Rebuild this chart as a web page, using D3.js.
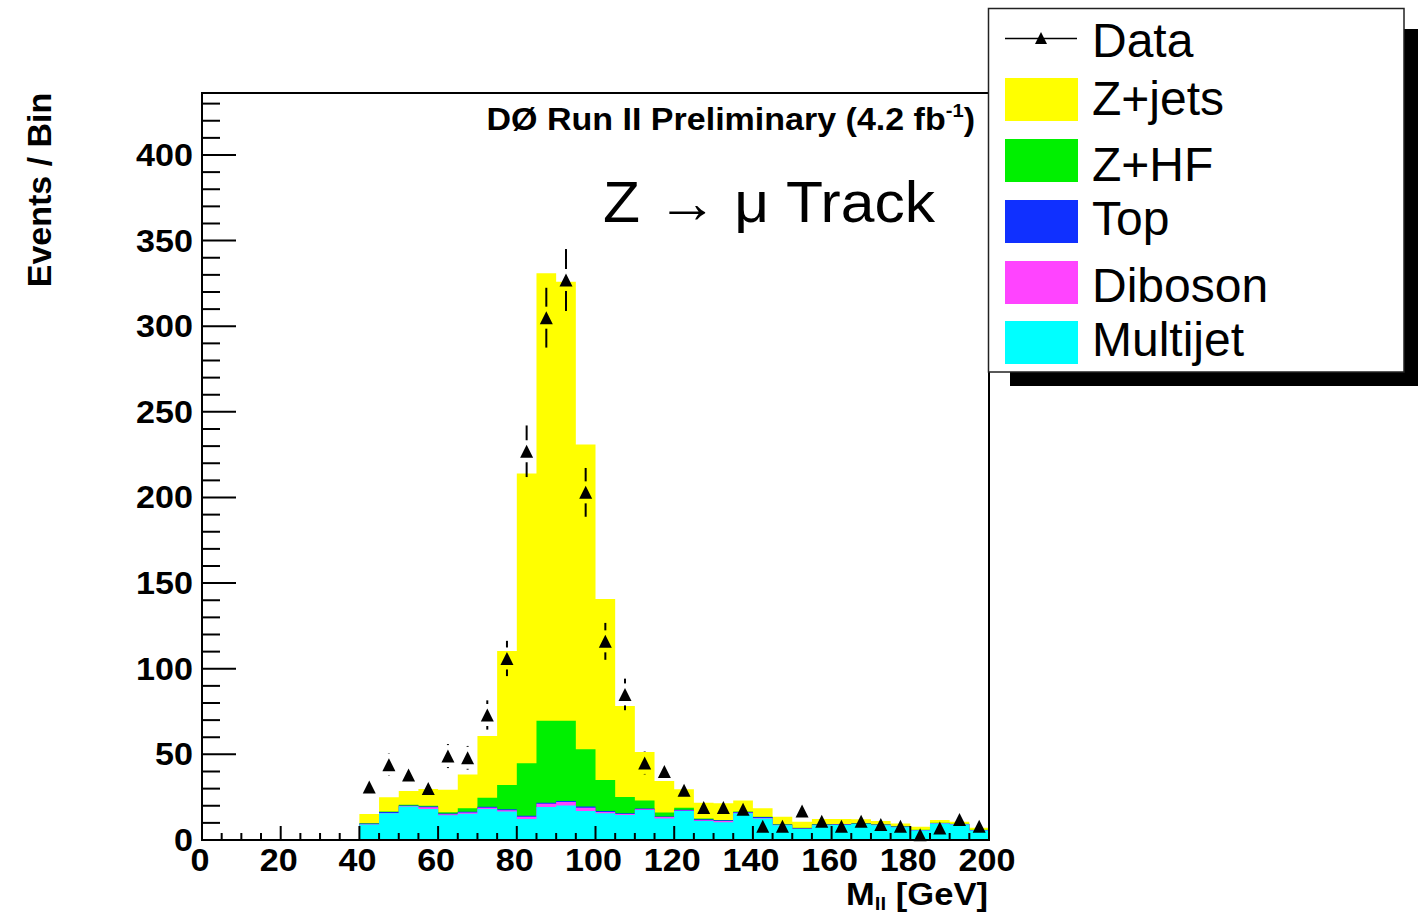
<!DOCTYPE html>
<html>
<head>
<meta charset="utf-8">
<script src="https://cdn.jsdelivr.net/npm/d3@7"></script>
<style>
  html, body { margin: 0; padding: 0; background: #fff; }
  svg { display: block; }
  text { font-family: "Liberation Sans", Arial, Helvetica, sans-serif; }
</style>
</head>
<body>
<svg id="chart" width="1421" height="916"></svg>
<script>
// Lower edges of the 5 GeV mass bins
const binLow = [40, 45, 50, 55, 60, 65, 70, 75, 80, 85, 90, 95, 100, 105, 110, 115,
                120, 125, 130, 135, 140, 145, 150, 155, 160, 165, 170, 175, 180, 185, 190, 195];
const binWidth = 5;

// Background components, events per bin (stacked bottom to top)
const multijet = [9.1, 15.6, 19.6, 18.1, 14.4, 15.4, 18.1, 16.6, 12.3, 19.3, 20.2, 16.9, 15.6, 14.6, 17.5, 12.6,
                  16.9, 11.1, 10.3, 15.6, 12.6, 8.6, 6.4, 8.6, 8.8, 9.3, 8.6, 7.4, 5.5, 9.7, 9.1, 5.5];
const diboson  = [0.1, 0.2, 0.2, 1.0, 0.6, 0.6, 0.8, 0.8, 1.3, 1.9, 2.0, 2.0, 0.8, 0.6, 0.5, 0.8,
                  0.3, 0.4, 0.8, 0.3, 0.2, 0.2, 0.2, 0.1, 0.1, 0.1, 0.1, 0.1, 0.1, 0.1, 0.1, 0.1];
const topq     = [0.4, 0.5, 0.4, 0.4, 0.5, 0.5, 0.5, 0.5, 0.5, 0.6, 0.6, 0.6, 0.5, 0.4, 0.4, 0.3,
                  0.4, 0.6, 0.4, 0.4, 0.6, 0.3, 0.3, 0.3, 0.3, 0.3, 0.3, 0.4, 0.2, 0.2, 0.2, 0.2];
const zhf      = [0.2, 0.3, 0.4, 0.5, 0.7, 2.0, 5.3, 14.2, 30.7, 47.9, 46.9, 33.5, 18.1, 9.5, 4.6, 2.3,
                  1.3, 0.4, 0.2, 0.3, 0.2, 0.1, 0.3, 0.2, 0.2, 0.1, 0.1, 0.1, 0.2, 0.1, 0.1, 0.2];
const zjets    = [5.4, 8.3, 8.0, 9.8, 13.2, 19.8, 36.0, 78.3, 169.2, 261.3, 256.3, 178.0, 105.7, 53.1, 28.4, 18.4,
                  10.7, 9.3, 9.7, 6.4, 4.9, 4.4, 3.5, 3.1, 2.9, 2.3, 2.0, 1.7, 1.8, 1.6, 1.2, 1.2];

// Observed events per bin
const data = [31, 44, 38, 30, 49, 48, 73, 106, 227, 305, 327, 203, 116, 85, 45, 40,
              29, 19, 19, 18, 8, 8, 17, 11, 8, 11, 9, 8, 3, 7, 12, 8];

// Axis tick labels
const xTickLabels = [0, 20, 40, 60, 80, 100, 120, 140, 160, 180, 200];
const yTickLabels = [0, 50, 100, 150, 200, 250, 300, 350, 400];

// Legend entries
const legendNames = ["Z+jets", "Z+HF", "Top", "Diboson", "Multijet"];
const legendColors = ["#ffff00", "#00f000", "#1030ff", "#ff44ff", "#00ffff"];

const svg = d3.select("#chart");
const x = d3.scaleLinear().domain([0, 200]).range([202, 989]);
const y = d3.scaleLinear().domain([0, 436.2]).range([840, 93]);

// ---- stacked histogram: cumulative step areas, tallest drawn first ----
const layers = [
  { name: "Multijet", vals: multijet, color: "#00ffff" },
  { name: "Diboson",  vals: diboson,  color: "#ff44ff" },
  { name: "Top",      vals: topq,     color: "#1030ff" },
  { name: "Z+HF",     vals: zhf,      color: "#00f000" },
  { name: "Z+jets",   vals: zjets,    color: "#ffff00" }
];
let running = binLow.map(() => 0);
layers.forEach(l => {
  running = running.map((r, i) => r + l.vals[i]);
  l.cum = running.slice();
});

const area = d3.area().x(d => x(d[0])).y0(y(0)).y1(d => y(d[1]));
const stackG = svg.append("g");
layers.slice().reverse().forEach(l => {
  const pts = [];
  binLow.forEach((lo, i) => {
    pts.push([lo, l.cum[i]]);
    pts.push([lo + binWidth, l.cum[i]]);
  });
  stackG.append("path")
    .attr("d", area(pts))
    .attr("fill", l.color)
    .attr("stroke", "none");
});

// ---- axes (ticks drawn inward) ----
const axG = svg.append("g").attr("stroke", "#000").attr("stroke-width", 2);
// y ticks: minor every 10, major every 50
d3.range(0, 436, 10).forEach(v => {
  const major = v % 50 === 0;
  axG.append("line")
    .attr("x1", x(0)).attr("x2", x(0) + (major ? 34 : 18))
    .attr("y1", y(v)).attr("y2", y(v));
});
// x ticks: minor every 5, major every 20
d3.range(0, 201, 5).forEach(v => {
  const major = v % 20 === 0;
  axG.append("line")
    .attr("x1", x(v)).attr("x2", x(v))
    .attr("y1", y(0)).attr("y2", y(0) - (major ? 14 : 7));
});

// frame
svg.append("rect")
  .attr("x", x(0)).attr("y", y(436.2))
  .attr("width", x(200) - x(0)).attr("height", y(0) - y(436.2))
  .attr("fill", "none").attr("stroke", "#000").attr("stroke-width", 2);

// tick labels (slightly widened bold face)
svg.append("g").selectAll("text").data(yTickLabels).join("text")
  .attr("transform", d => `translate(193,${y(d) + 11}) scale(1.1,1)`)
  .attr("text-anchor", "end")
  .attr("font-size", 31).attr("font-weight", "bold")
  .text(d => d);
svg.append("g").selectAll("text").data(xTickLabels).join("text")
  .attr("transform", d => `translate(${x(d) - 2},871) scale(1.1,1)`)
  .attr("text-anchor", "middle")
  .attr("font-size", 31).attr("font-weight", "bold")
  .text(d => d);

// axis titles
const xt = svg.append("text")
  .attr("transform", "translate(988,905) scale(1.08,1)")
  .attr("text-anchor", "end")
  .attr("font-size", 32).attr("font-weight", "bold");
xt.append("tspan").text("M");
xt.append("tspan").attr("font-size", 19).attr("dy", 5).text("ll");
xt.append("tspan").attr("dy", -5).text(" [GeV]");

svg.append("text")
  .attr("transform", "translate(51,190) rotate(-90)")
  .attr("text-anchor", "middle")
  .attr("font-size", 34).attr("font-weight", "bold")
  .text("Events / Bin");

// ---- data points with Poisson error bars ----
const dataG = svg.append("g");
const gap = 11;
data.forEach((v, i) => {
  const cx = x(binLow[i] + binWidth / 2);
  const cy = y(v);
  const err = Math.sqrt(v);
  const yHi = y(v + err), yLo = y(v - err);
  if (cy - yHi > gap) {
    dataG.append("line").attr("x1", cx).attr("x2", cx)
      .attr("y1", yHi).attr("y2", cy - gap)
      .attr("stroke", "#000").attr("stroke-width", 2);
  }
  if (yLo - cy > gap) {
    dataG.append("line").attr("x1", cx).attr("x2", cx)
      .attr("y1", cy + gap).attr("y2", Math.min(yLo, y(0)))
      .attr("stroke", "#000").attr("stroke-width", 2);
  }
  const r = 6.5;
  dataG.append("path")
    .attr("d", `M${cx - r},${cy + r}L${cx + r},${cy + r}L${cx},${cy - r}Z`)
    .attr("fill", "#000");
});

// ---- labels inside the frame ----
const hdr = svg.append("text")
  .attr("transform", "translate(975,130) scale(1.063,1)")
  .attr("text-anchor", "end")
  .attr("font-size", 32).attr("font-weight", "bold");
hdr.append("tspan").text("DØ Run II Preliminary (4.2 fb");
hdr.append("tspan").attr("font-size", 19).attr("dy", -13).text("-1");
hdr.append("tspan").attr("dy", 13).text(")");

svg.append("text")
  .attr("x", 603).attr("y", 222)
  .attr("font-family", "DejaVu Sans")
  .attr("font-size", 57)
  .attr("textLength", 332)
  .attr("lengthAdjust", "spacingAndGlyphs")
  .text("Z → μ Track");

// ---- legend ----
const lg = svg.append("g");
lg.append("rect").attr("x", 1010).attr("y", 29).attr("width", 408).attr("height", 357).attr("fill", "#000");
lg.append("rect").attr("x", 988.5).attr("y", 8.5).attr("width", 415.5).attr("height", 363.5)
  .attr("fill", "#fff").attr("stroke", "#222").attr("stroke-width", 1.5);

lg.append("line").attr("x1", 1005).attr("x2", 1077).attr("y1", 38.5).attr("y2", 38.5)
  .attr("stroke", "#000").attr("stroke-width", 1.5);
lg.append("path").attr("d", "M1035,44L1047,44L1041,32Z").attr("fill", "#000");
lg.append("text").attr("x", 1092).attr("y", 57).attr("font-size", 48).text("Data");

const boxTop = [78, 139, 200, 261, 321];
const baselines = [115, 181, 235, 302, 356];
legendNames.forEach((n, i) => {
  lg.append("rect").attr("x", 1005).attr("y", boxTop[i]).attr("width", 73).attr("height", 43)
    .attr("fill", legendColors[i]);
  lg.append("text").attr("x", 1092).attr("y", baselines[i]).attr("font-size", 48).text(n);
});
</script>
</body>
</html>
